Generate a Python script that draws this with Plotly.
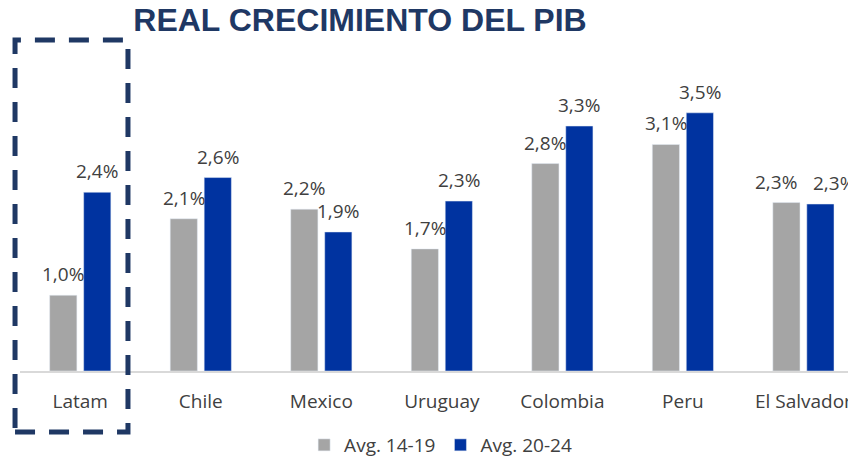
import plotly.graph_objects as go

categories = ["Latam", "Chile", "Mexico", "Uruguay", "Colombia", "Peru", "El Salvador"]
avg_14_19 = [1.03, 2.07, 2.20, 1.66, 2.82, 3.08, 2.29]
avg_20_24 = [2.43, 2.63, 1.89, 2.31, 3.33, 3.51, 2.27]
series_names = ["Avg. 14-19", "Avg. 20-24"]
title_text = "REAL CRECIMIENTO DEL PIB"

GRAY = "#A5A5A5"
BLUE = "#0033A0"
NAVY = "#1F3864"
TXT = "#404040"
FONT = "Open Sans"

# label placement (style): bar centre offset in px and extra nudges for the last group
BAR_OFFSET = [-17, 17]
EXTRA_NUDGE = {("El Salvador", 0): -10, ("El Salvador", 1): 14}

fig = go.Figure()
series = [(series_names[0], avg_14_19, GRAY), (series_names[1], avg_20_24, BLUE)]
for si, (name, vals, col) in enumerate(series):
    fig.add_trace(go.Bar(x=categories, y=vals, name=name, marker_color=col))
    for cat, v in zip(categories, vals):
        fig.add_annotation(
            x=cat, y=v, xref="x", yref="y", text=f"{v:.1f}%".replace(".", ","),
            showarrow=False, yanchor="bottom", xanchor="center",
            xshift=BAR_OFFSET[si] + EXTRA_NUDGE.get((cat, si), 0), yshift=6,
            font=dict(family=FONT, size=19, color=TXT),
        )

fig.update_layout(
    width=848, height=457,
    margin=dict(l=20, r=0, t=40, b=86, autoexpand=False),
    paper_bgcolor="white", plot_bgcolor="white",
    separators=",.",
    barmode="group", bargap=0.436, bargroupgap=0.2,
    showlegend=True,
    legend=dict(orientation="h", x=0.508, xanchor="center", y=-0.2236, yanchor="middle",
                font=dict(family=FONT, size=19, color=TXT), itemwidth=30),
    title=dict(text="<b>" + title_text + "</b>", x=360 / 848, xanchor="center",
               y=1 - 20 / 457, yanchor="middle",
               font=dict(family="Liberation Sans", size=32, color=NAVY)),
    xaxis=dict(range=[-0.5, 6.37], showline=True, linecolor="#D9D9D9", linewidth=1.5,
               ticks="", tickfont=dict(family=FONT, size=19, color=TXT), showgrid=False,
               ticklabelstandoff=12, automargin=False),
    yaxis=dict(range=[0, 4.5], visible=False, showgrid=False, zeroline=False, automargin=False),
)

fig.add_shape(type="rect", xref="paper", yref="paper", x0=-0.006, x1=0.1304, y0=-0.1843, y1=1.0,
              line=dict(color=NAVY, width=5, dash="20px,14px"), fillcolor="rgba(0,0,0,0)",
              layer="above")

fig.write_html("out.html", config={"displayModeBar": False},
               post_script="document.body.style.margin='0px';")
